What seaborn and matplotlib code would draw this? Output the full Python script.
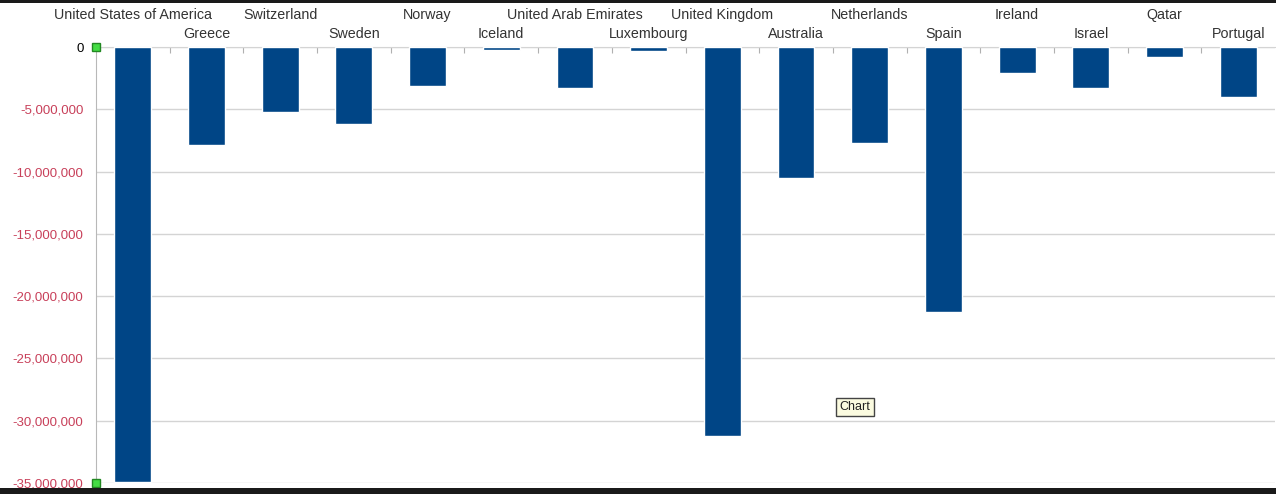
import pandas as pd
import matplotlib
matplotlib.use('Agg')
import matplotlib.pyplot as plt
import matplotlib.ticker as mticker
import matplotlib.transforms as mtrans
from matplotlib.patches import Rectangle
import seaborn as sns

# countries in chart order
countries = ["United States of America", "Greece", "Switzerland", "Sweden", "Norway",
             "Iceland", "United Arab Emirates", "Luxembourg", "United Kingdom", "Australia",
             "Netherlands", "Spain", "Ireland", "Israel", "Qatar", "Portugal"]

# values
values = [-34950000, -7870000, -5220000, -6180000, -3130000,
          -240000, -3290000, -320000, -31200000, -10500000,
          -7700000, -21300000, -2090000, -3290000, -800000, -4000000]

y_ticks = [0, -5000000, -10000000, -15000000, -20000000, -25000000, -30000000, -35000000]

df = pd.DataFrame({"country": countries, "value": values})

sns.set_style("white")
plt.rcParams['font.family'] = ['Liberation Sans', 'DejaVu Sans']

fig = plt.figure(figsize=(12.76, 4.94), dpi=100)
fig.patch.set_facecolor("white")
ax = fig.add_axes([96 / 1276, 1 - 483 / 494, 1179 / 1276, 436 / 494])

sns.barplot(data=df, x="country", y="value", color="#004586", width=0.5,
            saturation=1, ax=ax, zorder=3)

ax.set_ylim(-35000000, 0)
ax.set_xlim(-0.5, len(countries) - 0.5)
ax.set_yticks(y_ticks)
ax.yaxis.set_major_formatter(mticker.FuncFormatter(lambda v, p: f"{int(v):,}"))
ax.grid(axis="y", color="#d4d4d4", linewidth=1, zorder=0)
ax.tick_params(axis="y", length=6, color="#c0c0c0", labelsize=9.5, pad=3)
for lab, v in zip(ax.get_yticklabels(), y_ticks):
    lab.set_color("#000000" if v == 0 else "#c8405a")

# category names on top, staggered in two rows
ax.set_xticks([i + 0.5 for i in range(len(countries) - 1)])
ax.set_xticklabels([])
ax.xaxis.tick_top()
ax.tick_params(axis="x", top=True, direction="in", length=4, color="#b0b0b0")
ax.set_xlabel("")
ax.set_ylabel("")
trans = mtrans.blended_transform_factory(ax.transData, ax.transAxes)
for i, c in enumerate(countries):
    yrow = 1 + 32 / 436 if i % 2 == 0 else 1 + 13 / 436
    ax.text(i, yrow, c, transform=trans, ha="center", va="center",
            fontsize=10.3, color="#333333")

for s in ["right", "bottom"]:
    ax.spines[s].set_visible(False)
ax.spines["left"].set_color("#b8b8b8")
ax.spines["top"].set_color("#d4d4d4")

# selection handles on the axis
for yv in [0, -35000000]:
    ax.plot([-0.5], [yv], marker="s", markersize=6, markerfacecolor="#44dd44",
            markeredgecolor="#228822", clip_on=False, zorder=5)

# tooltip
ax.text(9.8, -28900000, "Chart", fontsize=9, color="#222222", ha="center", va="center",
        bbox=dict(boxstyle="square,pad=0.25", facecolor="#fbfbe0", edgecolor="#444444"),
        zorder=6)

# dark screen border
fig.patches.append(Rectangle((0, 1 - 3 / 494), 1, 3 / 494, transform=fig.transFigure,
                             facecolor="#1a1a1a", edgecolor="none"))
fig.patches.append(Rectangle((0, 0), 1, 6 / 494, transform=fig.transFigure,
                             facecolor="#1a1a1a", edgecolor="none", zorder=10))

fig.savefig("out.png", dpi=100)
